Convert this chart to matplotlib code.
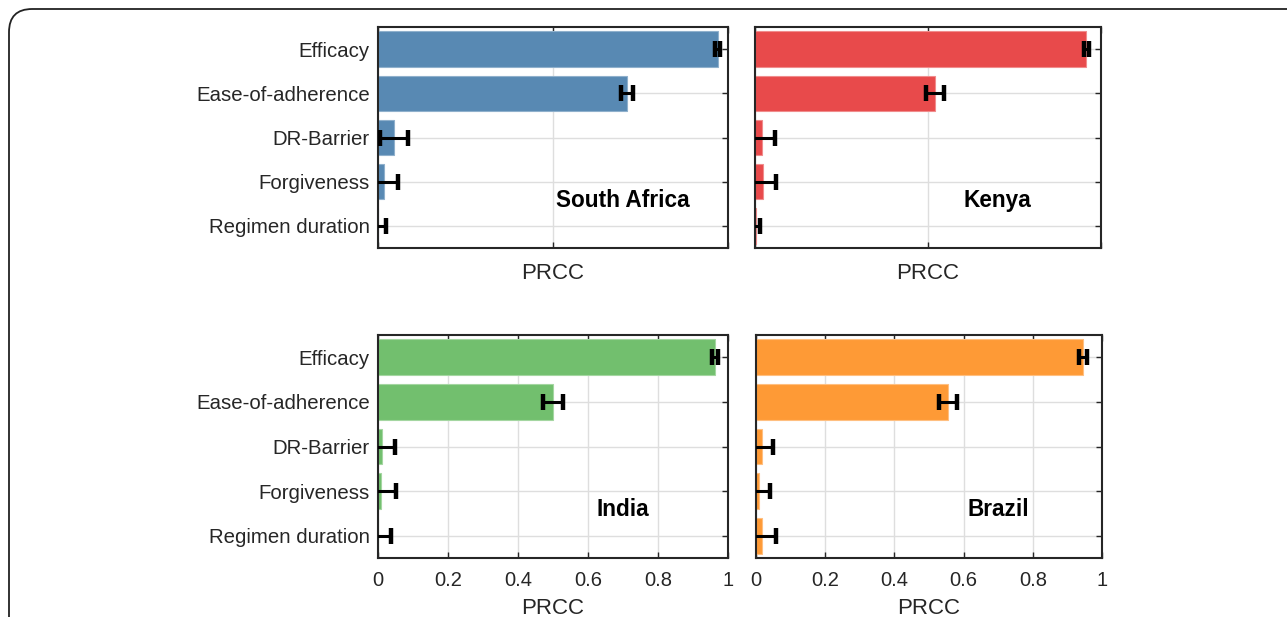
import matplotlib
matplotlib.use("Agg")
import matplotlib.pyplot as plt
from matplotlib import font_manager
from matplotlib.patches import FancyBboxPatch

plt.rcParams['font.family'] = ['Liberation Sans', 'DejaVu Sans']

params = ["Efficacy", "Ease-of-adherence", "DR-Barrier", "Forgiveness", "Regimen duration"]
countries = ["South Africa", "Kenya", "India", "Brazil"]
colors = ["#5889b3", "#e84a4b", "#72bf6e", "#fe9a36"]
edge_colors = ["#8fb0cc", "#f08c8c", "#a4d6a1", "#ffbf80"]

# PRCC values and error half-widths, same order as params
sa_prcc = [0.970, 0.711, 0.046, 0.018, 0.001]
sa_err = [0.008, 0.018, 0.041, 0.040, 0.021]
ke_prcc = [0.958, 0.520, 0.021, 0.022, 0.002]
ke_err = [0.008, 0.025, 0.037, 0.039, 0.012]
in_prcc = [0.962, 0.500, 0.010, 0.008, 0.000]
in_err = [0.009, 0.029, 0.038, 0.042, 0.037]
br_prcc = [0.946, 0.556, 0.018, 0.009, 0.018]
br_err = [0.012, 0.026, 0.032, 0.031, 0.041]

prcc = [sa_prcc, ke_prcc, in_prcc, br_prcc]
errs = [sa_err, ke_err, in_err, br_err]

# regular-width bold face (avoid the Narrow variant)
bold_file = None
for f in font_manager.findSystemFonts():
    if f.endswith("LiberationSans-Bold.ttf"):
        bold_file = f
        break
if bold_file:
    bold_prop = font_manager.FontProperties(fname=bold_file, size=16.3)
else:
    bold_prop = font_manager.FontProperties(family="DejaVu Sans", weight="bold", size=15)

W, H = 1287, 617
fig = plt.figure(figsize=(W / 100, H / 100), dpi=100)

# outer frame (rounded, cut by the image edges)
frame = FancyBboxPatch((9 / W, -30 / H), 1400 / W, (H - 9 + 30) / H,
                       boxstyle="round,pad=0,rounding_size=0.018",
                       transform=fig.transFigure, fill=False,
                       edgecolor="#222222", linewidth=1.3, clip_on=False,
                       mutation_aspect=W / H)
fig.patches.append(frame)

# axes boxes in pixels: left, right, top, bottom
boxes = [(378, 728, 27, 248), (755, 1101, 27, 248),
         (378, 728, 335, 558), (756, 1102, 335, 558)]

ypos = list(range(1, len(params) + 1))
for i, (l, r, t, b) in enumerate(boxes):
    ax = fig.add_axes([l / W, 1 - b / H, (r - l) / W, (b - t) / H])
    ax.set_axisbelow(True)
    ax.barh(ypos, prcc[i], height=0.8, color=colors[i],
            edgecolor=edge_colors[i], linewidth=0.8, zorder=2)
    ax.errorbar(prcc[i], ypos, xerr=errs[i], fmt='none', ecolor='black',
                elinewidth=2.2, capsize=5.5, capthick=3.2, zorder=3)
    ax.set_xlim(0, 1)
    ax.set_ylim(5.5, 0.5)
    ax.set_yticks(ypos)
    if i % 2 == 0:
        ax.set_yticklabels(params, fontsize=14.7, color="#262626")
    else:
        ax.set_yticklabels([])
    if i < 2:
        ax.set_xticks([0, 0.5, 1])
        ax.set_xticklabels([])
        ax.set_xlabel("PRCC", fontsize=16, color="#262626", labelpad=2)
    else:
        ax.set_xticks([0, 0.2, 0.4, 0.6, 0.8, 1])
        ax.set_xticklabels(["0", "0.2", "0.4", "0.6", "0.8", "1"],
                           fontsize=14.5, color="#262626")
        ax.set_xlabel("PRCC", fontsize=16, color="#262626", labelpad=6)
    ax.grid(True, color="#dedede", linewidth=1.0)
    ax.tick_params(axis='y', direction='in', left=True, right=True, length=4,
                   width=1.0, color="#262626", pad=6)
    ax.tick_params(axis='x', direction='in', top=True, bottom=True, length=4,
                   width=1.0, color="#262626", pad=9)
    for s in ax.spines.values():
        s.set_color("#262626")
        s.set_linewidth(1.5)
    ax.text(0.70, 4.42, countries[i], fontproperties=bold_prop,
            ha='center', va='center', color='black')

fig.savefig("out.png", dpi=100)
